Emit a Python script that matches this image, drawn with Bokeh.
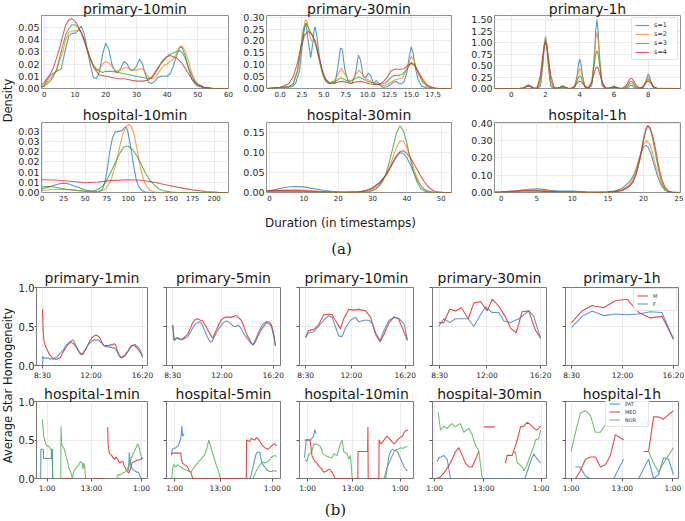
import math
import numpy as np
from bokeh.plotting import figure
from bokeh.layouts import column, row
from bokeh.models import Range1d, FixedTicker, Label, Legend, LegendItem
from bokeh.embed import file_html
from bokeh.resources import INLINE

NAN = float("nan")
GAP = (NAN, NAN)

# ======================= (a) duration densities =======================
a_series = ["s=1", "s=2", "s=3", "s=4"]
a_colors = ["#1f77b4", "#ff7f0e", "#2ca02c", "#d62728"]

# primary-10min
a_p10_s1 = [(-0.9,0.001),(0,0.003),(2,0.011),(4,0.014),(5.5,0.016),(7,0.033),(8,0.043),(9,0.045),(10,0.045),(11,0.047),(12,0.051),(13,0.045),(14,0.032),(15,0.019),(16,0.009),(17,0.008),(18,0.014),(19,0.028),(20,0.037),(21,0.032),(22,0.02),(23,0.014),(24,0.013),(25,0.017),(26,0.022),(27,0.02),(28,0.015),(29,0.015),(30,0.018),(31,0.024),(32,0.02),(33,0.011),(34,0.005),(35,0.004),(36,0.006),(37,0.009),(38,0.010),(40,0.01),(41,0.012),(42,0.018),(43,0.026),(44,0.033),(44.8,0.034),(46,0.026),(47,0.016),(48,0.008),(49,0.004),(50,0.002),(52,0.0005),(55,0.0),(60,0.0)]
a_p10_s2 = [(-0.9,0.001),(0,0.003),(2,0.008),(4,0.015),(6,0.03),(7,0.04),(8,0.046),(9,0.047),(10,0.047),(11,0.048),(12,0.046),(13,0.04),(14,0.032),(15,0.024),(16,0.018),(17,0.015),(18,0.016),(19,0.02),(20,0.022),(21,0.021),(22,0.018),(23,0.015),(24,0.014),(25,0.015),(26,0.017),(27,0.017),(28,0.016),(29,0.015),(30,0.015),(31,0.016),(32,0.016),(33,0.013),(34,0.009),(35,0.008),(36,0.009),(37,0.012),(38,0.016),(39,0.019),(40,0.02),(41,0.022),(42,0.024),(43,0.028),(44,0.034),(44.8,0.035),(46,0.03),(47,0.022),(48,0.013),(49,0.007),(50,0.004),(52,0.001),(55,0.0),(60,0.0)]
a_p10_s3 = [(-0.9,0.001),(0,0.002),(2,0.006),(4,0.015),(6,0.035),(7,0.044),(8,0.049),(9,0.052),(10,0.052),(11,0.05),(12,0.046),(13,0.04),(14,0.032),(15,0.025),(16,0.019),(17,0.016),(18,0.014),(19,0.013),(20,0.014),(22,0.014),(24,0.013),(26,0.012),(28,0.011),(30,0.01),(32,0.009),(34,0.008),(35,0.009),(36,0.012),(37,0.016),(38,0.02),(39,0.023),(40,0.026),(41,0.028),(42,0.029),(43,0.03),(44,0.031),(45,0.029),(46,0.024),(47,0.017),(48,0.011),(49,0.006),(50,0.003),(52,0.001),(55,0.0),(60,0.0)]
a_p10_s4 = [(-0.9,0.003),(0,0.005),(2,0.012),(3,0.017),(4,0.025),(5,0.033),(6,0.043),(7,0.052),(8,0.056),(9,0.057),(10,0.055),(11,0.051),(12,0.046),(13,0.039),(14,0.031),(15,0.024),(16,0.018),(17,0.014),(18,0.011),(20,0.01),(22,0.009),(24,0.008),(26,0.008),(28,0.007),(30,0.006),(32,0.006),(34,0.007),(35,0.009),(36,0.013),(37,0.017),(38,0.021),(39,0.024),(40,0.026),(41,0.027),(42,0.026),(43,0.025),(44,0.023),(45,0.02),(46,0.016),(47,0.012),(48,0.008),(49,0.005),(50,0.003),(52,0.001),(55,0.0),(60,0.0)]

# primary-30min
a_p30_s1 = [(-1.5,0),(0,0.004),(0.5,0.006),(1,0.005),(1.5,0.01),(1.8,0.025),(2.0,0.05),(2.2,0.07),(2.5,0.17),(2.8,0.26),(2.95,0.275),(3.2,0.2),(3.5,0.13),(3.7,0.18),(3.9,0.25),(4.0,0.26),(4.2,0.22),(4.5,0.13),(4.8,0.07),(5.2,0.03),(5.6,0.02),(6.0,0.03),(6.3,0.025),(6.6,0.09),(6.9,0.17),(7.1,0.165),(7.4,0.08),(7.8,0.025),(8.2,0.02),(8.6,0.06),(8.95,0.14),(9.2,0.12),(9.5,0.05),(9.8,0.045),(10.1,0.065),(10.4,0.05),(10.7,0.02),(11.0,0.033),(11.3,0.02),(11.7,0.005),(12.2,0.006),(12.6,0.015),(13.0,0.028),(13.3,0.03),(13.6,0.02),(13.9,0.02),(14.2,0.03),(14.5,0.07),(14.8,0.14),(15.0,0.175),(15.2,0.15),(15.5,0.08),(15.8,0.035),(16.2,0.01),(16.8,0.002),(17.5,0),(19.6,0)]
a_p30_s2 = [(-1.5,0),(0,0.003),(1,0.008),(1.5,0.02),(2,0.07),(2.3,0.15),(2.6,0.24),(2.9,0.29),(3.1,0.28),(3.4,0.22),(3.6,0.2),(3.9,0.2),(4.2,0.17),(4.6,0.1),(5.0,0.045),(5.5,0.022),(6.0,0.025),(6.5,0.05),(7.0,0.085),(7.4,0.06),(7.8,0.035),(8.3,0.035),(8.7,0.06),(9.0,0.078),(9.4,0.06),(9.8,0.04),(10.2,0.035),(10.6,0.025),(11.0,0.02),(11.5,0.012),(12.0,0.012),(12.5,0.022),(13.0,0.035),(13.5,0.04),(14.0,0.045),(14.5,0.08),(15.0,0.135),(15.3,0.12),(15.7,0.07),(16.2,0.03),(16.8,0.008),(17.5,0.001),(19.6,0)]
a_p30_s3 = [(-1.5,0),(0,0.003),(1,0.008),(1.5,0.02),(2,0.08),(2.4,0.18),(2.7,0.25),(3.0,0.275),(3.3,0.25),(3.7,0.22),(4.0,0.2),(4.4,0.13),(4.8,0.07),(5.2,0.035),(5.7,0.022),(6.2,0.025),(6.7,0.04),(7.0,0.045),(7.5,0.035),(8.0,0.03),(8.5,0.04),(9.0,0.048),(9.5,0.04),(10.0,0.03),(10.5,0.025),(11.0,0.02),(11.5,0.018),(12.0,0.022),(12.5,0.04),(13.0,0.055),(13.5,0.055),(14.0,0.06),(14.5,0.08),(15.0,0.11),(15.4,0.1),(15.8,0.07),(16.3,0.03),(17.0,0.006),(17.8,0.001),(19.6,0)]
a_p30_s4 = [(-1.5,0),(0,0.005),(1,0.02),(1.5,0.05),(2,0.11),(2.4,0.18),(2.8,0.225),(3.2,0.24),(3.6,0.23),(4.0,0.2),(4.4,0.14),(4.8,0.08),(5.2,0.04),(5.7,0.022),(6.2,0.02),(6.7,0.028),(7.2,0.03),(7.7,0.024),(8.2,0.022),(8.7,0.028),(9.2,0.03),(9.7,0.025),(10.2,0.02),(10.7,0.017),(11.2,0.017),(11.7,0.025),(12.2,0.045),(12.7,0.075),(13.2,0.082),(13.7,0.08),(14.2,0.083),(14.7,0.1),(15.0,0.105),(15.4,0.095),(15.8,0.07),(16.3,0.04),(16.8,0.015),(17.5,0.003),(18.2,0),(19.6,0)]

# primary-1h (shared evaluation grid)
a_p1h_x = [-1.0, 0.5,
           0.7, 0.85, 0.93, 1.0, 1.07, 1.15, 1.3, 1.5,
           1.7, 1.85, 1.93, 2.0, 2.07, 2.15, 2.3, 2.5,
           2.7, 2.85, 2.93, 3.0, 3.07, 3.15, 3.3, 3.5,
           3.7, 3.85, 3.93, 4.0, 4.07, 4.15, 4.3, 4.5,
           4.7, 4.85, 4.93, 5.0, 5.07, 5.15, 5.3, 5.5,
           5.7, 5.85, 5.93, 6.0, 6.07, 6.15, 6.3, 6.5,
           6.7, 6.85, 6.93, 7.0, 7.07, 7.15, 7.3, 7.5,
           7.7, 7.85, 7.93, 8.0, 8.07, 8.15, 8.3, 8.5, 9.9]
a_p1h_s1 = [0, 0,
            0.004, 0.037, 0.067, 0.08, 0.067, 0.037, 0.004, 0.0,
            0.05, 0.52, 0.95, 1.13, 0.95, 0.52, 0.05, 0.0,
            0.003, 0.028, 0.05, 0.06, 0.05, 0.028, 0.003, 0.0,
            0.028, 0.29, 0.54, 0.64, 0.54, 0.29, 0.028, 0.0,
            0.066, 0.69, 1.26, 1.50, 1.26, 0.69, 0.066, 0.0,
            0.002, 0.023, 0.042, 0.05, 0.042, 0.023, 0.002, 0.0,
            0.003, 0.032, 0.059, 0.07, 0.059, 0.032, 0.003, 0.0,
            0.014, 0.14, 0.26, 0.31, 0.26, 0.14, 0.014, 0.0, 0]
a_p1h_s2 = [0, 0,
            0.007, 0.039, 0.062, 0.07, 0.062, 0.039, 0.007, 0.0,
            0.11, 0.61, 0.96, 1.09, 0.96, 0.61, 0.11, 0.002,
            0.005, 0.028, 0.044, 0.05, 0.044, 0.028, 0.005, 0.0,
            0.043, 0.24, 0.38, 0.43, 0.38, 0.24, 0.043, 0.001,
            0.12, 0.68, 1.07, 1.22, 1.07, 0.68, 0.12, 0.002,
            0.004, 0.022, 0.035, 0.04, 0.035, 0.022, 0.004, 0.0,
            0.012, 0.067, 0.106, 0.12, 0.106, 0.067, 0.012, 0.0,
            0.025, 0.14, 0.22, 0.25, 0.22, 0.14, 0.025, 0.0, 0]
a_p1h_s3 = [0, 0,
            0.01, 0.038, 0.055, 0.06, 0.055, 0.038, 0.01, 0.0,
            0.18, 0.67, 0.95, 1.04, 0.95, 0.67, 0.18, 0.008,
            0.007, 0.026, 0.036, 0.04, 0.036, 0.026, 0.007, 0.0,
            0.046, 0.17, 0.25, 0.27, 0.25, 0.17, 0.046, 0.002,
            0.14, 0.52, 0.75, 0.82, 0.75, 0.52, 0.14, 0.007,
            0.005, 0.019, 0.027, 0.03, 0.027, 0.019, 0.005, 0.0,
            0.027, 0.10, 0.146, 0.16, 0.146, 0.10, 0.027, 0.001,
            0.034, 0.13, 0.18, 0.20, 0.18, 0.13, 0.034, 0.002, 0]
a_p1h_s4 = [0, 0.002,
            0.015, 0.037, 0.047, 0.05, 0.047, 0.037, 0.015, 0.002,
            0.29, 0.73, 0.93, 1.00, 0.93, 0.73, 0.29, 0.03,
            0.009, 0.022, 0.028, 0.03, 0.028, 0.022, 0.009, 0.005,
            0.046, 0.117, 0.149, 0.16, 0.149, 0.117, 0.046, 0.015,
            0.14, 0.34, 0.44, 0.47, 0.44, 0.34, 0.14, 0.015,
            0.009, 0.022, 0.028, 0.03, 0.028, 0.022, 0.009, 0.007,
            0.064, 0.16, 0.205, 0.22, 0.205, 0.16, 0.064, 0.01,
            0.046, 0.117, 0.149, 0.16, 0.149, 0.117, 0.046, 0.005, 0]

# hospital-10min
a_h10_s1 = [(-0.8,0.0015),(0,0.0018),(10,0.003),(20,0.0043),(25,0.0046),(30,0.0043),(40,0.0028),(50,0.0012),(60,0.0005),(66,0.0006),(70,0.0015),(73,0.005),(76,0.012),(79,0.021),(82,0.027),(85,0.0295),(90,0.030),(93,0.0303),(96,0.0318),(98,0.032),(100,0.029),(103,0.022),(106,0.014),(109,0.007),(112,0.003),(116,0.001),(120,0.0002),(125,0),(216,0)]
a_h10_s2 = [(-0.8,0.0008),(0,0.001),(10,0.0015),(20,0.0016),(30,0.0014),(40,0.0011),(50,0.0006),(60,0.0003),(68,0.0006),(74,0.0018),(80,0.006),(85,0.013),(90,0.022),(94,0.029),(98,0.0325),(101,0.0333),(104,0.032),(107,0.028),(110,0.022),(113,0.015),(116,0.009),(120,0.004),(125,0.0012),(130,0.0003),(135,0),(216,0)]
a_h10_s3 = [(-0.8,0.0025),(0,0.0028),(10,0.0029),(20,0.0022),(30,0.0015),(40,0.001),(50,0.0006),(60,0.0008),(65,0.0015),(70,0.003),(75,0.006),(80,0.01),(85,0.0145),(90,0.019),(95,0.0222),(100,0.0227),(105,0.021),(110,0.018),(115,0.014),(120,0.0095),(125,0.0062),(130,0.0038),(135,0.002),(140,0.001),(150,0.0002),(160,0),(216,0)]
a_h10_s4 = [(-0.8,0.0062),(0,0.0062),(15,0.0061),(30,0.0056),(50,0.0048),(65,0.0051),(80,0.0058),(100,0.0062),(115,0.006),(130,0.005),(145,0.0037),(160,0.0024),(175,0.0013),(190,0.0005),(205,0.0001),(216,0)]

# hospital-30min
a_h30_s1 = [(-0.9,0.003),(0,0.004),(2,0.008),(4,0.012),(6,0.0145),(8,0.0148),(10,0.0142),(12,0.011),(14,0.008),(16,0.005),(18,0.003),(20,0.0015),(22,0.001),(24,0.0012),(26,0.002),(28,0.005),(30,0.012),(32,0.025),(34,0.045),(36,0.075),(37,0.09),(38,0.1),(39,0.098),(40,0.088),(41,0.07),(42,0.05),(43,0.032),(44,0.018),(45,0.009),(46,0.004),(47,0.0015),(48,0.0005),(50,0),(53,0)]
a_h30_s2 = [(-0.9,0.002),(0,0.003),(3,0.005),(6,0.0065),(9,0.0065),(12,0.005),(15,0.003),(18,0.0015),(22,0.0007),(26,0.0008),(28,0.002),(30,0.006),(32,0.018),(34,0.045),(35,0.065),(36,0.09),(37,0.114),(38,0.13),(39,0.128),(40,0.113),(41,0.088),(42,0.06),(43,0.036),(44,0.018),(45,0.008),(46,0.003),(47,0.001),(49,0),(53,0)]
a_h30_s3 = [(-0.9,0.002),(0,0.0025),(4,0.003),(8,0.0025),(12,0.0015),(16,0.0008),(20,0.0004),(26,0.0005),(29,0.002),(31,0.008),(33,0.028),(34,0.05),(35,0.08),(36,0.115),(37,0.15),(38,0.168),(39,0.155),(40,0.125),(41,0.085),(42,0.05),(43,0.025),(44,0.01),(45,0.004),(46,0.001),(48,0),(53,0)]
a_h30_s4 = [(-0.9,0.004),(0,0.005),(3,0.0055),(6,0.005),(10,0.004),(14,0.0025),(18,0.0012),(22,0.0008),(26,0.0015),(28,0.004),(30,0.01),(32,0.023),(34,0.045),(35,0.06),(36,0.078),(37,0.093),(38,0.103),(39,0.105),(40,0.098),(41,0.088),(42,0.073),(43,0.058),(44,0.042),(45,0.028),(46,0.017),(47,0.009),(48,0.004),(49,0.0015),(51,0),(53,0)]

# hospital-1h
a_h1h_s1 = [(-0.9,0.001),(0,0.002),(1,0.005),(2,0.009),(3,0.014),(4,0.019),(5,0.022),(6,0.018),(7,0.012),(8,0.008),(9,0.008),(10,0.008),(11,0.005),(12,0.002),(13,0.001),(14,0.002),(15,0.004),(16,0.01),(17,0.025),(18,0.06),(18.5,0.09),(19,0.14),(19.5,0.21),(20,0.26),(20.3,0.272),(20.6,0.265),(21,0.23),(21.5,0.16),(22,0.09),(22.5,0.04),(23,0.015),(23.5,0.004),(24,0.001),(25.2,0)]
a_h1h_s2 = [(-0.9,0.001),(0,0.002),(1,0.006),(2,0.009),(3,0.012),(4,0.014),(5,0.015),(6,0.012),(7,0.008),(8,0.005),(9,0.005),(10,0.005),(11,0.003),(12,0.001),(14,0.001),(15,0.003),(16,0.007),(17,0.018),(18,0.045),(18.5,0.075),(19,0.13),(19.5,0.21),(20,0.28),(20.4,0.3),(20.8,0.285),(21.2,0.24),(21.6,0.17),(22,0.1),(22.5,0.045),(23,0.015),(23.5,0.004),(24,0.001),(25.2,0)]
a_h1h_s3 = [(-0.9,0.001),(0,0.002),(1,0.004),(2,0.006),(3,0.007),(4,0.008),(5,0.008),(6,0.006),(7,0.004),(8,0.003),(10,0.003),(12,0.001),(14,0.001),(15,0.002),(16,0.005),(17,0.012),(18,0.035),(18.5,0.06),(19,0.11),(19.5,0.2),(20,0.31),(20.4,0.375),(20.6,0.385),(20.9,0.37),(21.3,0.31),(21.7,0.22),(22.1,0.13),(22.5,0.065),(23,0.022),(23.5,0.006),(24,0.001),(25.2,0)]
a_h1h_s4 = [(-0.9,0.002),(0,0.003),(1,0.007),(2,0.009),(3,0.01),(4,0.01),(5,0.01),(6,0.008),(7,0.006),(8,0.004),(10,0.003),(12,0.0015),(14,0.001),(15,0.002),(16,0.005),(17,0.012),(18,0.035),(18.5,0.06),(19,0.11),(19.5,0.19),(20,0.3),(20.4,0.37),(20.6,0.385),(20.9,0.375),(21.3,0.33),(21.7,0.25),(22.1,0.16),(22.5,0.085),(23,0.032),(23.5,0.009),(24,0.002),(25.2,0)]

# tick labels (a)
a_p10_xt = [0, 10, 20, 30, 40, 50, 60]
a_p10_xl = ["0", "10", "20", "30", "40", "50", "60"]
a_p10_yt = [0.0, 0.01, 0.02, 0.03, 0.04, 0.05]
a_p10_yl = ["0.00", "0.01", "0.02", "0.03", "0.04", "0.05"]
a_p30_xt = [0.0, 2.5, 5.0, 7.5, 10.0, 12.5, 15.0, 17.5]
a_p30_xl = ["0.0", "2.5", "5.0", "7.5", "10.0", "12.5", "15.0", "17.5"]
a_p30_yt = [0.0, 0.05, 0.1, 0.15, 0.2, 0.25, 0.3]
a_p30_yl = ["0.00", "0.05", "0.10", "0.15", "0.20", "0.25", "0.30"]
a_p1h_xt = [0, 2, 4, 6, 8]
a_p1h_xl = ["0", "2", "4", "6", "8"]
a_p1h_yt = [0.0, 0.25, 0.5, 0.75, 1.0, 1.25, 1.5]
a_p1h_yl = ["0.00", "0.25", "0.50", "0.75", "1.00", "1.25", "1.50"]
a_h10_xt = [0, 25, 50, 75, 100, 125, 150, 175, 200]
a_h10_xl = ["0", "25", "50", "75", "100", "125", "150", "175", "200"]
a_h10_yt = [0.0, 0.005, 0.01, 0.015, 0.02, 0.025, 0.03]
a_h10_yl = ["0.00", "0.01", "0.01", "0.02", "0.02", "0.03", "0.03"]
a_h30_xt = [0, 10, 20, 30, 40, 50]
a_h30_xl = ["0", "10", "20", "30", "40", "50"]
a_h30_yt = [0.0, 0.05, 0.1, 0.15]
a_h30_yl = ["0.00", "0.05", "0.10", "0.15"]
a_h1h_xt = [0, 5, 10, 15, 20, 25]
a_h1h_xl = ["0", "5", "10", "15", "20", "25"]
a_h1h_yt = [0.0, 0.1, 0.2, 0.3, 0.4]
a_h1h_yl = ["0.00", "0.10", "0.20", "0.30", "0.40"]

# ======================= (b) average star homogeneity =======================
# x = position along the day axis (0 = first tick, 100 = last tick)
b_prim_names = ["M", "F"]
b_prim_colors = ["#e41a1c", "#377eb8"]
b_hosp_names = ["PAT", "MED", "NUR"]
b_hosp_colors = ["#377eb8", "#e41a1c", "#4daf4a"]

b_p1m_M = [(0,0.72),(0.3,0.6),(0.8,0.42),(1.5,0.32),(2.5,0.27),(4,0.22),(5.5,0.18),(7,0.14),(8.5,0.12),(10,0.1),(11.5,0.09),(13,0.08),(14.5,0.08),(16,0.09),(17.5,0.1),(19,0.13),(20.5,0.17),(22,0.2),(23.5,0.23),(25,0.26),(26.5,0.28),(28,0.3),(29.5,0.29),(31,0.28),(32.5,0.26),(34,0.23),(35.5,0.2),(37,0.17),(38.5,0.15),(40,0.14),(41.5,0.17),(43,0.2),(44.5,0.24),(46,0.28),(47.5,0.32),(49,0.35),(50.5,0.37),(52,0.38),(53.5,0.39),(55,0.38),(56.5,0.37),(58,0.34),(59.5,0.29),(61,0.26),(62.5,0.25),(64,0.26),(65.5,0.25),(67,0.26),(68.5,0.27),(70,0.26),(71.5,0.28),(73,0.27),(74.5,0.2),(76,0.15),(77.5,0.12),(79,0.1),(80.5,0.11),(82,0.12),(83.5,0.14),(85,0.17),(86.5,0.21),(88,0.24),(89.5,0.26),(91,0.26),(92.5,0.25),(94,0.23),(95.5,0.21),(97,0.18),(98.5,0.15),(100,0.12)]
b_p1m_F = [(0,0.0),(0.4,0.12),(1.5,0.09),(3,0.1),(4.5,0.09),(6,0.1),(7.5,0.08),(9,0.09),(10.5,0.08),(12,0.09),(13.5,0.1),(15,0.11),(16.5,0.14),(18,0.16),(19.5,0.19),(21,0.2),(22.5,0.24),(24,0.27),(25.5,0.28),(27,0.3),(28.5,0.31),(30,0.33),(31,0.32),(32.5,0.28),(34,0.24),(35.5,0.2),(37,0.16),(38.5,0.14),(40,0.15),(41.5,0.18),(43,0.21),(44.5,0.24),(46,0.27),(47.5,0.29),(49,0.31),(50.5,0.32),(52,0.33),(53.5,0.32),(55,0.33),(56.5,0.32),(58,0.3),(59.5,0.29),(61,0.26),(62.5,0.25),(64,0.24),(65.5,0.25),(67,0.23),(68.5,0.24),(70,0.22),(71.5,0.23),(73,0.21),(74.5,0.18),(76,0.14),(77.5,0.11),(79,0.1),(80.5,0.12),(82,0.13),(83.5,0.16),(85,0.18),(86.5,0.2),(88,0.23),(89.5,0.25),(91,0.26),(92.5,0.27),(94,0.25),(95.5,0.24),(97,0.21),(98.5,0.17),(100,0.1)]

b_p5m_M = [(0,0.52),(1.5,0.32),(3,0.34),(4.8,0.36),(7,0.34),(9.7,0.34),(12,0.37),(14.6,0.4),(17,0.47),(19.5,0.55),(22,0.59),(24.4,0.6),(27,0.58),(29.3,0.57),(31,0.53),(32.5,0.5),(34,0.46),(35.8,0.42),(37.5,0.38),(39.1,0.35),(40.7,0.4),(42.3,0.45),(44.8,0.52),(47.2,0.58),(49.6,0.61),(52.1,0.62),(54.5,0.62),(57.0,0.62),(59.5,0.63),(61.9,0.64),(64.4,0.61),(66.8,0.58),(68.7,0.52),(70.7,0.45),(72.8,0.38),(75.0,0.33),(76.6,0.29),(78.2,0.26),(79.9,0.29),(81.5,0.33),(83.1,0.38),(84.8,0.42),(87.2,0.48),(89.7,0.52),(91.3,0.55),(92.9,0.56),(94.6,0.55),(96.2,0.52),(97.5,0.45),(98.8,0.38),(100,0.25)]
b_p5m_F = [(0,0.52),(1.5,0.32),(3,0.35),(4.8,0.35),(7,0.33),(9.7,0.33),(12,0.35),(14.6,0.37),(17,0.42),(19.5,0.48),(22,0.53),(24.4,0.55),(26,0.56),(27.6,0.55),(29.5,0.5),(31.4,0.44),(33.3,0.38),(35.2,0.33),(36.8,0.3),(38.4,0.31),(40.2,0.36),(42.3,0.41),(44.8,0.47),(47.2,0.51),(49.5,0.55),(52.1,0.57),(54.5,0.56),(56.9,0.53),(58.5,0.51),(60.2,0.5),(61.9,0.5),(63.5,0.52),(65.1,0.5),(66.8,0.47),(68.7,0.42),(70.7,0.38),(72.8,0.34),(75.0,0.31),(76.6,0.28),(78.2,0.27),(79.9,0.31),(81.5,0.36),(83.1,0.41),(84.8,0.46),(86.4,0.5),(88.0,0.53),(89.7,0.55),(91.3,0.56),(92.9,0.54),(94.6,0.52),(96.2,0.5),(97.5,0.42),(98.8,0.35),(100,0.25)]

b_p10_M = [(0,0.36),(2.8,0.45),(7.7,0.46),(12.6,0.52),(17.5,0.65),(22.4,0.66),(25.7,0.65),(28.9,0.58),(33.8,0.47),(37.1,0.6),(42.0,0.72),(46.9,0.71),(51.8,0.72),(58.3,0.7),(63.2,0.62),(68.1,0.4),(72.4,0.3),(76.3,0.4),(81.2,0.55),(86.1,0.62),(90.3,0.6),(94.2,0.48),(99.1,0.32)]
b_p10_F = [(0,0.36),(2.8,0.42),(7.7,0.43),(12.6,0.5),(17.5,0.58),(22.4,0.64),(25.7,0.62),(28.9,0.5),(32.2,0.38),(35.5,0.37),(38.7,0.48),(43.6,0.58),(48.5,0.62),(51.8,0.56),(56.7,0.58),(61.6,0.58),(64.9,0.54),(68.1,0.42),(72.4,0.32),(76.3,0.45),(81.2,0.58),(86.1,0.62),(91.0,0.6),(95.9,0.53),(99.1,0.33)]

b_p30_M = [(0,0.55),(5.0,0.55),(10.8,0.72),(16.4,0.7),(22.2,0.74),(28.8,0.6),(34.2,0.8),(40.7,0.82),(47.3,0.7),(52.1,0.85),(58.6,0.76),(65.1,0.62),(70.0,0.48),(75.5,0.42),(81.3,0.69),(87.8,0.7),(93.6,0.47),(99.2,0.35)]
b_p30_F = [(0,0.5),(5.0,0.6),(10.8,0.55),(16.4,0.6),(22.2,0.6),(28.8,0.6),(34.2,0.5),(40.7,0.65),(45.6,0.75),(52.1,0.68),(58.6,0.68),(63.5,0.57),(70.0,0.55),(78.1,0.6),(87.8,0.7),(92.6,0.63),(99.2,0.35)]

b_p1h_M = [(0,0.55),(10.3,0.7),(20.1,0.77),(31.5,0.74),(43.0,0.83),(54.4,0.85),(65.8,0.68),(77.3,0.61),(88.7,0.63),(100,0.34)]
b_p1h_F = [(0,0.49),(10.3,0.63),(20.1,0.7),(31.5,0.64),(43.0,0.66),(54.4,0.65),(65.8,0.66),(77.3,0.69),(88.7,0.68),(100,0.34)]

b_h1m_PAT = [(-1.8,0.0),(-1.6,0.38),(0.8,0.38),(1.1,0.26),(8.8,0.26),(9.1,0.38),(9.8,0.38),(10.1,0.0), GAP, (86.1,0.1),(86.8,0.34),(87.6,0.22),(88.7,0.15),(90.5,0.12),(92.0,0.1),(94.6,0.08),(96.0,0.08),(97.5,0.03),(98.5,0.0),(100,0.0)]
b_h1m_MED = [(16.9,0.0),(29.9,0.0), GAP, (51.1,0.0),(62.6,0.0), GAP, (65.2,0.67),(65.6,0.45),(66.5,0.35),(67.5,0.32),(69.1,0.3),(70.5,0.27),(72.4,0.25),(73.2,0.28),(74.0,0.27),(75.5,0.24),(77.3,0.2),(78.9,0.22),(80.5,0.22),(81.4,0.17),(82.2,0.15),(83.5,0.12),(84.8,0.1),(86.1,0.07),(87.0,0.09),(88.0,0.12),(89.3,0.2),(90.5,0.21),(92.0,0.22),(93.6,0.23),(95.2,0.24),(96.8,0.24),(98.5,0.25),(100,0.27)]
b_h1m_NUR = [(-0.1,0.77),(0.3,0.7),(0.9,0.6),(1.2,0.55),(2.2,0.5),(3.1,0.45),(4.0,0.43),(4.8,0.42),(6.4,0.42),(7.2,0.4),(8.0,0.38),(9.7,0.38),(10.3,0.0),(18.3,0.0),(18.5,0.68),(18.9,0.55),(19.1,0.45),(20.1,0.42),(21.0,0.4),(21.8,0.38),(22.6,0.34),(23.4,0.3),(24.2,0.26),(25.0,0.22),(25.8,0.17),(26.7,0.12),(27.5,0.1),(28.3,0.08),(29.1,0.04),(29.9,0.0),(30.6,0.05),(31.5,0.1),(32.3,0.11),(33.2,0.12),(34.0,0.14),(34.8,0.15),(35.6,0.17),(36.4,0.18),(37.2,0.2),(38.1,0.22),(38.9,0.21),(39.7,0.2),(40.2,0.16),(40.7,0.12),(41.0,0.19),(41.3,0.2),(42.3,0.15),(43.0,0.0), GAP, (74.0,0.0),(75.6,0.05),(77.3,0.05),(78.9,0.06),(80.5,0.07),(82.2,0.08),(83.5,0.1),(84.8,0.12),(86.1,0.16),(87.1,0.2),(88.2,0.24),(89.3,0.28),(90.6,0.32),(92.0,0.35),(92.8,0.38),(93.6,0.4),(94.4,0.43),(95.2,0.45),(96.0,0.42),(96.8,0.4),(97.6,0.34),(98.5,0.3),(99.2,0.27),(100,0.25)]

b_h5m_PAT = [(-1.1,0.3),(-0.5,0.38),(1.5,0.39),(3.1,0.4),(4.8,0.42),(6.0,0.44),(7.4,0.5),(8.2,0.55),(9.0,0.68),(9.4,0.6),(9.7,0.55),(10.5,0.57),(11.3,0.58), GAP, (75.0,0.0),(76.6,0.05),(78.2,0.15),(79.9,0.25),(81.5,0.33),(83.1,0.34),(84.8,0.34),(86.0,0.25),(87.1,0.2),(88.4,0.17),(89.7,0.15),(91.3,0.12),(92.9,0.1),(94.6,0.09),(96.2,0.09),(97.8,0.1),(99.5,0.1),(101.1,0.09)]
b_h5m_MED = [(-1.1,0.33),(3.0,0.33),(8.0,0.33),(8.5,0.25),(9.7,0.2),(11.3,0.18),(12.9,0.17),(14.6,0.15),(15.4,0.12),(16.2,0.1),(17.8,0.08),(19.5,0.0),(71.7,0.0),(72.0,0.5),(73.4,0.49),(75.0,0.48),(76.6,0.52),(78.2,0.51),(79.9,0.5),(81.5,0.53),(83.1,0.52),(84.8,0.48),(86.4,0.45),(88.0,0.42),(89.7,0.4),(91.3,0.39),(92.9,0.38),(94.6,0.4),(96.2,0.42),(97.8,0.44),(99.5,0.45),(101.1,0.42)]
b_h5m_NUR = [(-0.8,0.0),(0.2,0.15),(0.9,0.18),(2.0,0.16),(3.1,0.15),(4.8,0.18),(6.4,0.16),(8.0,0.15),(9.7,0.13),(11.3,0.12),(12.9,0.11),(14.6,0.1),(16.2,0.09),(17.8,0.08),(19.5,0.12),(21.1,0.15),(22.8,0.18),(24.4,0.2),(26.0,0.23),(27.6,0.25),(29.3,0.28),(30.9,0.3),(32.2,0.35),(33.5,0.4),(34.3,0.45),(35.1,0.5),(36.2,0.45),(37.4,0.4),(39.0,0.32),(40.7,0.25),(42.3,0.18),(44.0,0.12),(45.3,0.06),(46.6,0.0), GAP, (78.2,0.0),(79.9,0.05),(81.5,0.1),(83.1,0.14),(84.8,0.17),(86.4,0.2),(88.0,0.21),(89.7,0.2),(91.3,0.21),(92.9,0.22),(94.6,0.25),(96.2,0.28),(97.8,0.29),(99.5,0.3),(101.1,0.28)]

b_h10_PAT = [(-1.1,0.27),(0.5,0.5),(2.5,0.5),(4.4,0.5),(6.0,0.52),(7.7,0.55),(8.7,0.63),(10.3,0.58), GAP, (77.9,0.0),(79.5,0.15),(81.2,0.3),(82.8,0.35),(84.4,0.38),(86.1,0.37),(87.7,0.36),(89.3,0.35),(91.0,0.3),(92.6,0.25),(94.2,0.2),(95.9,0.15),(97.5,0.12),(99.1,0.1)]
b_h10_MED = [(-1.1,0.5),(2.0,0.5),(4.4,0.5),(6.1,0.3),(7.7,0.25),(9.4,0.22),(11.0,0.2),(12.3,0.17),(13.6,0.15),(15.9,0.12),(17.5,0.08),(19.1,0.09),(20.8,0.1),(22.1,0.12),(23.4,0.12),(25.7,0.08),(27.3,0.04),(28.9,0.0),(50.8,0.0),(51.0,0.35),(60.3,0.35),(60.6,0.67),(60.9,0.0),(71.3,0.0),(71.5,0.5),(73.0,0.45),(74.7,0.47),(76.3,0.5),(77.9,0.53),(79.5,0.55),(81.2,0.52),(82.8,0.5),(84.4,0.47),(86.1,0.45),(87.7,0.47),(89.3,0.5),(91.0,0.52),(92.6,0.54),(94.2,0.55),(95.9,0.6),(97.5,0.62),(99.8,0.63)]
b_h10_NUR = [(-0.4,0.25),(1.2,0.22),(2.8,0.3),(4.4,0.33),(6.1,0.35),(7.7,0.45),(9.4,0.44),(11.0,0.45),(12.6,0.43),(14.2,0.42),(15.6,0.37),(16.9,0.32),(19.1,0.3),(20.7,0.29),(22.4,0.28),(24.0,0.27),(25.7,0.27),(27.3,0.32),(28.9,0.31),(30.6,0.3),(32.2,0.38),(33.8,0.45),(35.5,0.5),(36.3,0.42),(37.1,0.35),(38.8,0.33),(40.4,0.32),(42.0,0.25),(43.6,0.3),(44.5,0.15),(45.3,0.0), GAP, (76.3,0.0),(77.9,0.08),(79.5,0.15),(81.2,0.2),(82.8,0.25),(84.4,0.3),(86.1,0.35),(87.7,0.37),(89.3,0.38),(91.0,0.39),(92.6,0.4),(94.2,0.39),(95.9,0.4),(97.5,0.41),(99.1,0.42)]

b_h30_PAT = [(-1.4,0.22),(0.1,0.27),(2.5,0.28),(5.0,0.3),(8.3,0.25),(11.5,0.0), GAP, (42.4,0.0),(53.7,0.0), GAP, (63.4,0.0),(70.0,0.0), GAP, (76.5,0.0),(83.9,0.0),(87.0,0.12),(90.0,0.24),(92.7,0.32),(94.3,0.28),(97.0,0.24),(99.2,0.2)]
b_h30_MED = [(-2.4,0.0),(1.8,0.02),(6.7,0.1),(10.0,0.17),(13.2,0.25),(16.4,0.35),(19.6,0.4),(22.9,0.3),(26.1,0.2),(29.4,0.15),(32.6,0.15),(35.9,0.25),(39.1,0.35), GAP, (44.0,0.67),(54.7,0.67), GAP, (65.1,0.2),(66.7,0.3),(69.5,0.3),(71.6,0.3),(74.1,0.4),(76.5,0.5),(79.7,0.67),(82.9,0.68),(86.2,0.73),(89.4,0.7),(92.7,0.65),(95.9,0.63),(99.2,0.68)]
b_h30_NUR = [(-0.5,0.86),(1.8,0.63),(5.0,0.68),(8.3,0.65),(11.5,0.7),(13.2,0.71),(16.4,0.67),(19.0,0.7),(21.3,0.71),(24.5,0.6),(27.0,0.63),(29.4,0.65),(32.6,0.57),(35.9,0.43),(39.1,0.36),(42.4,0.0), GAP, (73.2,0.33),(74.8,0.35),(76.5,0.2),(78.1,0.19),(79.7,0.17),(81.3,0.15),(82.9,0.1),(84.6,0.14),(86.2,0.18),(87.8,0.25),(89.4,0.3),(91.0,0.36),(92.7,0.42),(94.3,0.5),(95.9,0.51),(97.5,0.52),(99.2,0.63)]

b_h1h_PAT = [(3.8,0.15),(8.7,0.15),(13.6,0.03),(18.5,0.0), GAP, (41.3,0.0),(51.1,0.25), GAP, (65.8,0.0),(75.6,0.25),(80.5,0.0),(85.4,0.05),(90.3,0.27),(95.2,0.25),(100,0.05)]
b_h1h_MED = [(3.8,0.0),(8.7,0.1),(13.6,0.25),(18.5,0.28),(23.4,0.28),(28.3,0.15),(33.2,0.18),(38.1,0.3),(43.0,0.57),(51.1,0.5), GAP, (70.7,0.35),(75.6,0.35),(80.5,0.8),(85.4,0.8),(90.3,0.77),(95.2,0.83),(100,0.88)]
b_h1h_NUR = [(-0.5,0.35),(3.8,0.6),(8.7,0.85),(13.6,0.88),(18.5,0.82),(23.4,0.6),(28.3,0.6),(33.2,0.7), GAP, (75.6,0.35),(80.5,0.2),(85.4,0.08),(90.3,0.2),(95.2,0.3),(100,0.4)]

b_prim_labels = ["8:30", "12:00", "16:20"]
b_hosp_labels = ["1:00", "13:00", "1:00"]
b_prim_ticks = [[0, 48.5, 100], [0, 48, 98], [0, 44.5, 97], [1, 47, 99.5], [0, 50, 100]]
b_hosp_ticks = [[4.7, 49, 99], [2, 46.3, 97], [2, 46, 92], [-4, 44, 99.8], [-0.5, 49.8, 99.5]]
b_yticks = [0, 0.5, 1.0]
b_ylabels = ["0.0", "0.5", "1.0"]

# ======================= layout (pixel geometry of the picture) =======================
FONT = "DejaVu Sans"
TITLE_SIZE = "14px"

A_EDGES = [15, 233, 458, 685]
A_FL = [41, 266, 494]
A_FR = [228, 451, 680]
A_FRY = [(15, 88), (122, 192)]
A_ROWS = [(0, 103), (103, 205)]
A_STAND = [-3, 0]
B_EDGES = [15, 156, 289, 422, 555, 685]
B_FL = [33, 166, 299, 432, 565]
B_FR = [147, 280, 413, 546, 678]
B_FRY = [(287, 367), (401, 481)]
B_ROWS = [(262, 382), (382, 495)]
B_STAND = [3, 0]


def make_fig(x0, x1, fl, fr, y0, y1, ft, fb, xr, yr, title, standoff):
    p = figure(width=x1 - x0, height=y1 - y0,
               x_range=Range1d(*xr), y_range=Range1d(*yr),
               output_backend="svg", toolbar_location=None, title=title,
               min_border_left=fl - x0, min_border_right=x1 - fr,
               min_border_top=ft - y0, min_border_bottom=y1 - fb)
    p.background_fill_color = "white"
    p.border_fill_color = "white"
    p.title.align = "center"
    p.title.text_font = FONT
    p.title.text_font_size = TITLE_SIZE
    p.title.text_font_style = "normal"
    p.title.text_color = "#1a1a1a"
    p.title.standoff = standoff
    return p


def blank_fig(w, h):
    p = figure(width=w, height=h, x_range=Range1d(0, 1), y_range=Range1d(0, 1),
               x_axis_type=None, y_axis_type=None, toolbar_location=None,
               output_backend="svg", title=None, min_border=0)
    p.outline_line_color = None
    p.background_fill_color = "white"
    p.border_fill_color = "white"
    return p


def style_axes(p, xt, xl, yt, yl, xsize, ysize, xtick, ytick, outline, ystand):
    p.outline_line_color = outline
    p.outline_line_width = 1
    p.xaxis.ticker = FixedTicker(ticks=xt)
    p.yaxis.ticker = FixedTicker(ticks=yt)
    p.xaxis.major_label_overrides = {t: l for t, l in zip(xt, xl)}
    p.yaxis.major_label_overrides = {t: l for t, l in zip(yt, yl)}
    for ax, fs, to in ((p.xaxis[0], xsize, xtick), (p.yaxis[0], ysize, ytick)):
        ax.axis_line_color = None
        ax.minor_tick_line_color = None
        ax.major_tick_in = 0
        ax.major_tick_out = to
        ax.major_tick_line_color = "#555555" if to > 0 else None
        ax.major_label_text_font = FONT
        ax.major_label_text_font_size = fs
        ax.major_label_text_color = "#262626"
    p.xaxis.major_label_standoff = 2
    p.yaxis.major_label_standoff = ystand
    p.xgrid.grid_line_color = "#ebebeb"
    p.ygrid.grid_line_color = "#ebebeb"


def pairs(pts):
    return [q[0] for q in pts], [q[1] for q in pts]


def panel_a(ci, ri, title, xr, yr, xt, xl, yt, yl, curves):
    ft, fb = A_FRY[ri]
    p = make_fig(A_EDGES[ci], A_EDGES[ci + 1], A_FL[ci], A_FR[ci],
                 A_ROWS[ri][0], A_ROWS[ri][1], ft, fb, xr, yr, title, A_STAND[ri])
    style_axes(p, xt, xl, yt, yl, "7px", "9.5px", 0, 0, "#8f8f8f", 2)
    rends = []
    for (xs, ys), c in zip(curves, a_colors):
        rends.append(p.line(np.array(xs, dtype=float), np.array(ys, dtype=float),
                            line_color=c, line_width=1.1, line_alpha=0.75))
    return p, rends


def panel_b(ci, ri, title, ticks, tlabels, series, colors):
    xr = (-6, 105)
    yr = (0, 1)
    ft, fb = B_FRY[ri]
    p = make_fig(B_EDGES[ci], B_EDGES[ci + 1], B_FL[ci], B_FR[ci],
                 B_ROWS[ri][0], B_ROWS[ri][1], ft, fb, xr, yr, title, B_STAND[ri])
    if ci == 0:
        style_axes(p, ticks, tlabels, b_yticks, b_ylabels, "7.5px", "10px", 3, 2, "#7a7a7a", 0)
    else:
        style_axes(p, ticks, tlabels, b_yticks, ["", "", ""], "7.5px", "10px", 3, 3, "#7a7a7a", 0)
    rends = []
    for pts, c in zip(series, colors):
        xs, ys = pairs(pts)
        rends.append(p.line(np.array(xs, dtype=float), np.array(ys, dtype=float),
                            line_color=c, line_width=1.1, line_alpha=0.8))
    return p, rends


def style_legend(lg, fs, gh, gw):
    lg.label_text_font = FONT
    lg.label_text_font_size = fs
    lg.label_text_color = "#333333"
    lg.glyph_height = gh
    lg.glyph_width = gw
    lg.label_height = gh
    lg.label_standoff = 5
    lg.spacing = 1
    lg.padding = 3
    lg.margin = 2
    lg.border_line_color = "#cccccc"
    lg.border_line_width = 1
    lg.background_fill_alpha = 0.85


# ---- (a) panels
a1, _ = panel_a(0, 0, "primary-10min", (-0.9, 60), (0, 0.0596), a_p10_xt, a_p10_xl, a_p10_yt, a_p10_yl,
                [pairs(a_p10_s1), pairs(a_p10_s2), pairs(a_p10_s3), pairs(a_p10_s4)])
a2, _ = panel_a(1, 0, "primary-30min", (-1.56, 19.6), (0, 0.307), a_p30_xt, a_p30_xl, a_p30_yt, a_p30_yl,
                [pairs(a_p30_s1), pairs(a_p30_s2), pairs(a_p30_s3), pairs(a_p30_s4)])
a3, a3r = panel_a(2, 0, "primary-1h", (-0.98, 9.88), (0, 1.587), a_p1h_xt, a_p1h_xl, a_p1h_yt, a_p1h_yl,
                  [(a_p1h_x, a_p1h_s1), (a_p1h_x, a_p1h_s2), (a_p1h_x, a_p1h_s3), (a_p1h_x, a_p1h_s4)])
a4, _ = panel_a(0, 1, "hospital-10min", (-0.8, 216.7), (0, 0.0342), a_h10_xt, a_h10_xl, a_h10_yt, a_h10_yl,
                [pairs(a_h10_s1), pairs(a_h10_s2), pairs(a_h10_s3), pairs(a_h10_s4)])
a5, _ = panel_a(1, 1, "hospital-30min", (-0.87, 53), (0, 0.176), a_h30_xt, a_h30_xl, a_h30_yt, a_h30_yl,
                [pairs(a_h30_s1), pairs(a_h30_s2), pairs(a_h30_s3), pairs(a_h30_s4)])
a6, _ = panel_a(2, 1, "hospital-1h", (-0.93, 25.2), (0, 0.404), a_h1h_xt, a_h1h_xl, a_h1h_yt, a_h1h_yl,
                [pairs(a_h1h_s1), pairs(a_h1h_s2), pairs(a_h1h_s3), pairs(a_h1h_s4)])

lgA = Legend(items=[LegendItem(label=n, renderers=[r]) for n, r in zip(a_series, a3r)],
             location="top_right")
style_legend(lgA, "6.5px", 8, 14)
a3.add_layout(lgA, "center")

# ---- (b) panels
prim_titles = ["primary-1min", "primary-5min", "primary-10min", "primary-30min", "primary-1h"]
hosp_titles = ["hospital-1min", "hospital-5min", "hospital-10min", "hospital-30min", "hospital-1h"]
prim_data = [(b_p1m_M, b_p1m_F), (b_p5m_M, b_p5m_F), (b_p10_M, b_p10_F), (b_p30_M, b_p30_F), (b_p1h_M, b_p1h_F)]
hosp_data = [(b_h1m_PAT, b_h1m_MED, b_h1m_NUR), (b_h5m_PAT, b_h5m_MED, b_h5m_NUR),
             (b_h10_PAT, b_h10_MED, b_h10_NUR), (b_h30_PAT, b_h30_MED, b_h30_NUR),
             (b_h1h_PAT, b_h1h_MED, b_h1h_NUR)]

brow1, brow2 = [], []
last_p = last_h = None
for i in range(5):
    pp, pr = panel_b(i, 0, prim_titles[i], b_prim_ticks[i], b_prim_labels, prim_data[i], b_prim_colors)
    hp, hr = panel_b(i, 1, hosp_titles[i], b_hosp_ticks[i], b_hosp_labels, hosp_data[i], b_hosp_colors)
    brow1.append(pp)
    brow2.append(hp)
    last_p, last_h = pr, hr

lgP = Legend(items=[LegendItem(label=n, renderers=[r]) for n, r in zip(b_prim_names, last_p)],
             location="top_right")
style_legend(lgP, "5px", 7, 11)
lgP.margin = 1
brow1[4].add_layout(lgP, "center")

lgH = Legend(items=[LegendItem(label=n, renderers=[r]) for n, r in zip(b_hosp_names, last_h)],
             location=(40, 51))
style_legend(lgH, "5px", 7, 11)
brow2[4].add_layout(lgH, "center")

# ---- text-only strips
dens = blank_fig(15, 205)
dens.add_layout(Label(x=7.5, y=205 - 100, x_units="screen", y_units="screen",
                      text="Density", angle=math.pi / 2, text_align="center", text_baseline="middle",
                      text_font=FONT, text_font_size="11.5px", text_color="#1a1a1a"))

bandA = blank_fig(685, 262 - 205)
bandA.add_layout(Label(x=340, y=262 - 222, x_units="screen", y_units="screen",
                       text="Duration (in timestamps)", text_align="center", text_baseline="middle",
                       text_font=FONT, text_font_size="12px", text_color="#1a1a1a"))
bandA.add_layout(Label(x=341, y=262 - 248, x_units="screen", y_units="screen",
                       text="(a)", text_align="center", text_baseline="middle",
                       text_font="DejaVu Serif", text_font_size="15px", text_color="#1a1a1a"))

homog = blank_fig(15, 495 - 262)
homog.add_layout(Label(x=7.5, y=495 - 385, x_units="screen", y_units="screen",
                       text="Average Star Homogeneity", angle=math.pi / 2, text_align="center",
                       text_baseline="middle", text_font=FONT, text_font_size="11.5px",
                       text_color="#1a1a1a"))

bandB = blank_fig(685, 521 - 495)
bandB.add_layout(Label(x=335, y=521 - 509, x_units="screen", y_units="screen",
                       text="(b)", text_align="center", text_baseline="middle",
                       text_font="DejaVu Serif", text_font_size="15px", text_color="#1a1a1a"))

gridA = column(row(a1, a2, a3), row(a4, a5, a6))
gridB = column(row(*brow1), row(*brow2))
secA = column(row(dens, gridA), bandA)
secB = column(row(homog, gridB), bandB)
layout = column(secA, secB)

open("out.html", "w").write(file_html(layout, INLINE, "chart"))
